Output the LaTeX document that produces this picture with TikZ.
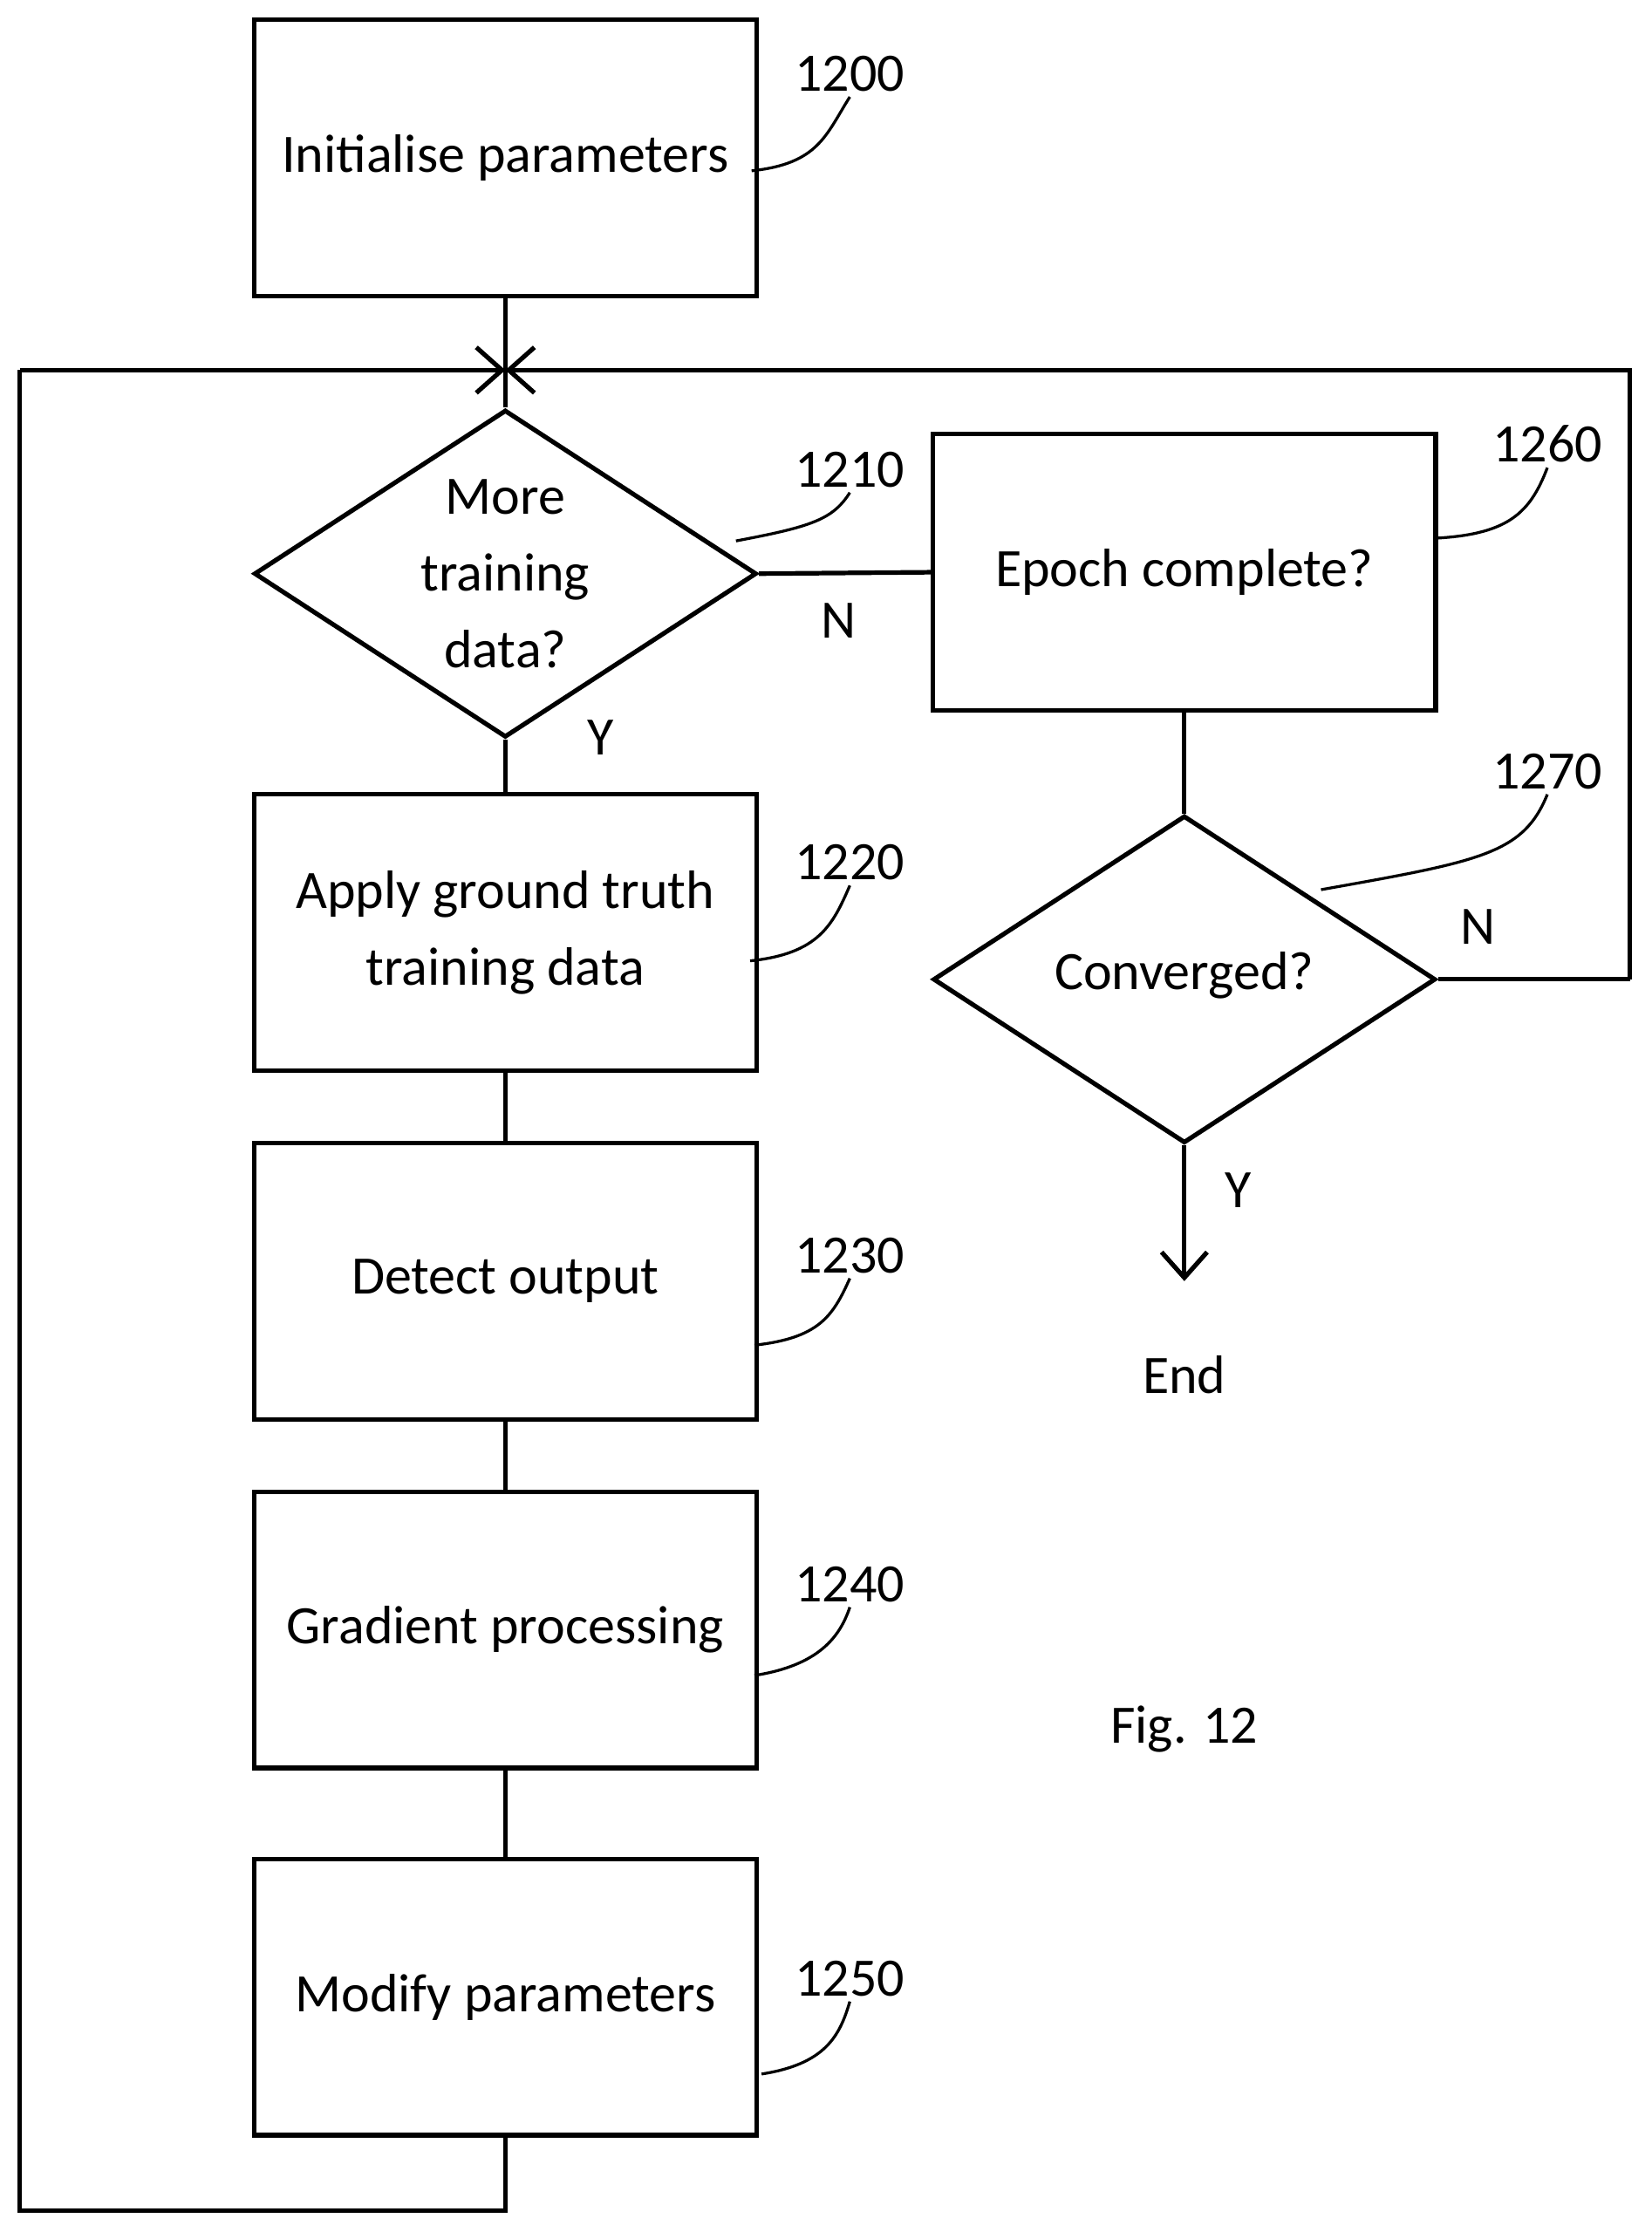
\documentclass[tikz,border=0pt]{standalone}
\usepackage{fontspec}
\setmainfont{Carlito}
\usetikzlibrary{positioning,shapes.geometric,arrows.meta}
\begin{document}
\begin{tikzpicture}[x=0.5pt, y=-0.5pt, line width=1.6pt,
  every node/.style={font=\fontsize{19}{27}\selectfont},
  process/.style={draw, rectangle, minimum width=176.5pt, minimum height=97pt, align=center},
  decision/.style={draw, diamond, minimum width=176.5pt, minimum height=115pt, inner sep=0pt},
  ref/.style={inner sep=1pt},
  leader/.style={line width=1pt},
  tip/.style={-{Straight Barb[length=9pt,width=16pt,line width=1.6pt]}}]
\useasboundingbox (0,0) rectangle (1160,1568);
% left column
\node[process] (init) at (355,111) {Initialise parameters};
\node[decision] (more) at (355,403) {};
\node[align=center] (moretext) at (355,403) {More\\training\\data?};
\node[process] (apply) at (355,655) {Apply ground truth\\training data};
\node[process] (detect) at (355,900) {Detect output};
\node[process] (grad) at (355,1145) {Gradient processing};
\node[process] (modify) at (355,1403) {Modify parameters};
% right column
\node[process] (epoch) at (832,402) {Epoch complete?};
\node[decision] (conv) at (832,688) {};
\node (convtext) at (832,685) {Converged?};
\coordinate (endpt) at (832,900);
\node (end) at (832,966) {End};
\node (fig) at (832,1215) {Fig. 12};
% loop
\coordinate (join) at (355,260);
\coordinate (loopbl) at (14,1553);
\coordinate (loopbr) at (355,1553);
\coordinate (looptl) at (14,260);
\coordinate (looptr) at (1145,260);
\coordinate (convr) at (1145,688);
\draw (init.south) -- (more.north);
\draw[tip] (looptl) -- (join);
\draw[tip] (convr) -- (looptr) -- (join);
\draw (conv.east) -- (convr);
\draw (modify.south) -- (loopbr) -- (loopbl) -- (looptl);
\draw (more.south) -- (apply.north);
\draw (apply.south) -- (detect.north);
\draw (detect.south) -- (grad.north);
\draw (grad.south) -- (modify.north);
\draw (more.east) -- (epoch.west);
\draw (epoch.south) -- (conv.north);
\draw[tip] (conv.south) -- (endpt);
% branch labels
\node (n1) at (589,436) {N};
\node (y1) at (422,518) {Y};
\node (n2) at (1038,651) {N};
\node (y2) at (870,836) {Y};
% reference numerals
\node[ref] (r1200) at (597,52) {1200};
\node[ref] (r1210) at (597,330) {1210};
\node[ref] (r1220) at (597,606) {1220};
\node[ref] (r1230) at (597,882) {1230};
\node[ref] (r1240) at (597,1113) {1240};
\node[ref] (r1250) at (597,1390) {1250};
\node[ref] (r1260) at (1087,312) {1260};
\node[ref] (r1270) at (1087,542) {1270};
\draw[leader] (528,120) .. controls (575,115) and (580,95) .. (r1200.south);
\draw[leader] (517,380) .. controls (570,370) and (585,365) .. (r1210.south);
\draw[leader] (527,675) .. controls (575,670) and (585,650) .. (r1220.south);
\draw[leader] (530,945) .. controls (575,940) and (585,925) .. (r1230.south);
\draw[leader] (530,1177) .. controls (575,1170) and (590,1150) .. (r1240.south);
\draw[leader] (535,1457) .. controls (580,1450) and (590,1430) .. (r1250.south);
\draw[leader] (1010,378) .. controls (1060,375) and (1075,360) .. (r1260.south);
\draw[leader] (928,625) .. controls (1040,605) and (1070,600) .. (r1270.south);
\end{tikzpicture}
\end{document}
